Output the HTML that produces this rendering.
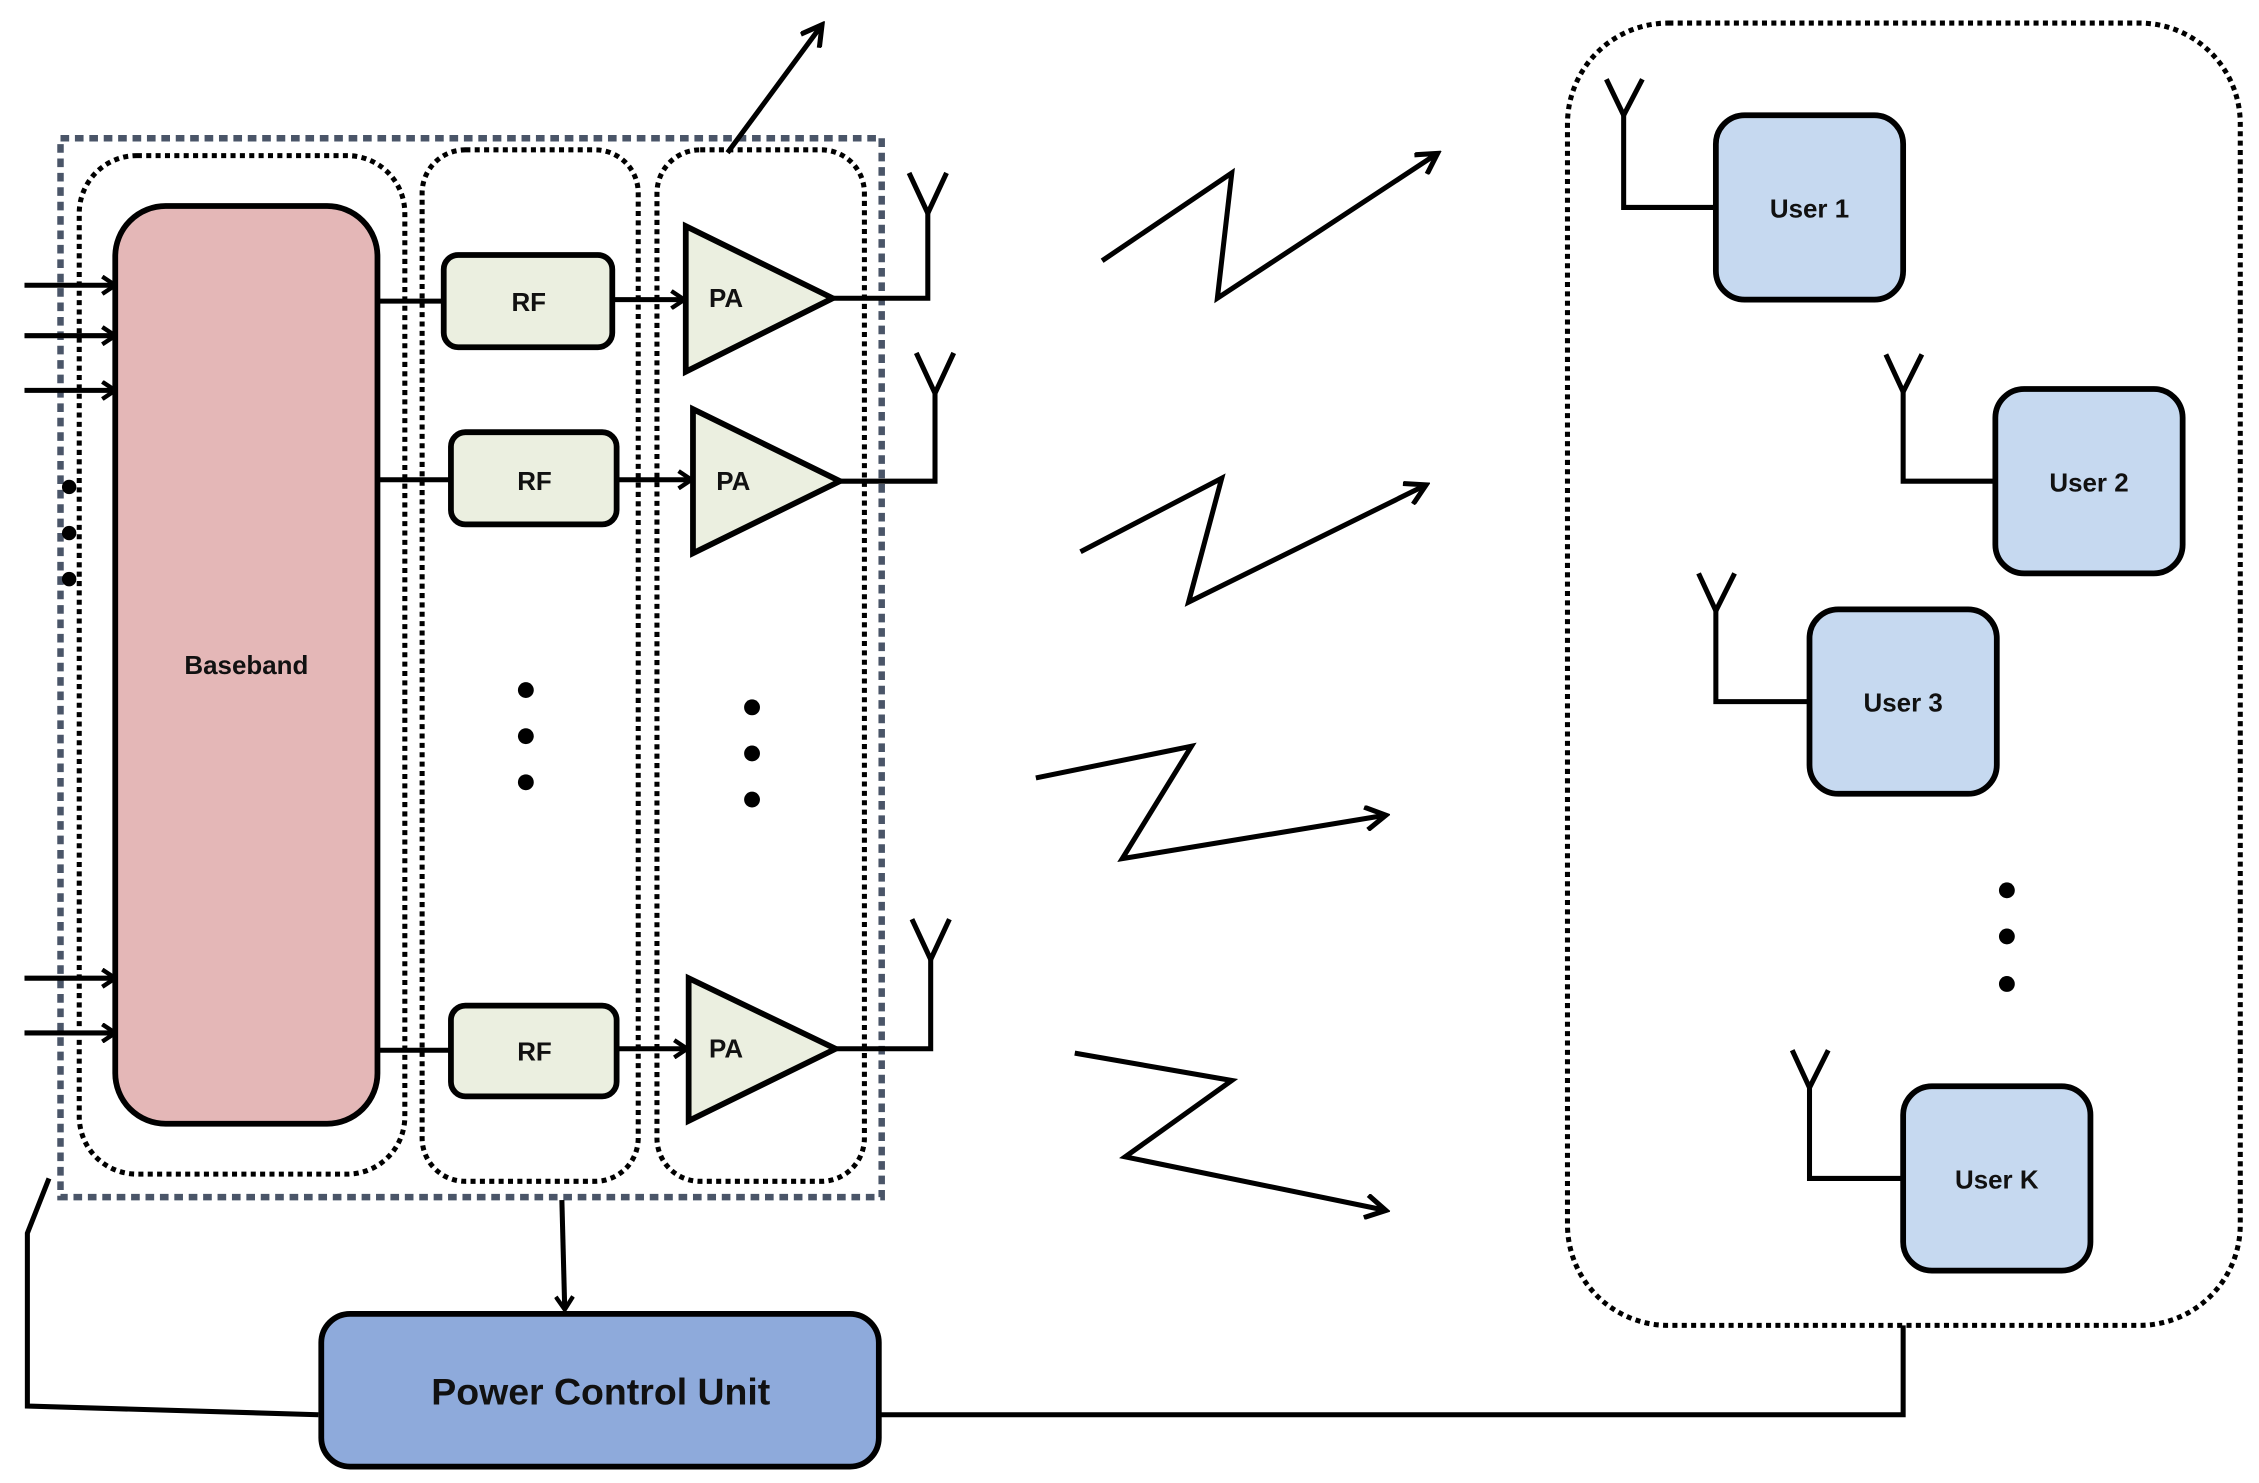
<!DOCTYPE html>
<html><head><meta charset="utf-8"><style>
html,body{margin:0;padding:0;background:#fff;}
svg{display:block;}
text{font-family:"Liberation Sans","Noto Sans CJK KR",sans-serif;font-weight:bold;fill:#111;}
</style></head><body>
<svg width="2259" height="1483" viewBox="0 0 1568 1029.4" preserveAspectRatio="none" xmlns="http://www.w3.org/2000/svg">
<defs>
<marker id="ah" markerWidth="12" markerHeight="14" refX="10" refY="7" orient="auto" markerUnits="userSpaceOnUse">
<path d="M1,1 L10,7 L1,13" fill="none" stroke="#000" stroke-width="3"/>
</marker>
<marker id="ab" markerWidth="18" markerHeight="18" refX="14" refY="9" orient="auto" markerUnits="userSpaceOnUse">
<path d="M1,1 L15,9 L1,17" fill="none" stroke="#000" stroke-width="3.5"/>
</marker>
</defs>
<g fill="none" stroke="#000" stroke-width="3.5">
<rect x="42" y="96" width="570" height="735" stroke="#4a5568" stroke-width="4.5" stroke-dasharray="6,4"/>
<rect x="55" y="108" width="226" height="707" rx="40" stroke-dasharray="3.5,3"/>
<rect x="293" y="104" width="150" height="716" rx="30" stroke-dasharray="3.5,3"/>
<rect x="456" y="104" width="144" height="716" rx="30" stroke-dasharray="3.5,3"/>
<rect x="1088" y="16" width="467" height="904" rx="70" stroke-dasharray="3.5,3"/>
<rect x="80" y="143" width="182" height="637" rx="35" fill="#e4b7b7" stroke-width="4"/>
<line x1="17" y1="198" x2="80" y2="198" marker-end="url(#ah)"/>
<line x1="17" y1="233" x2="80" y2="233" marker-end="url(#ah)"/>
<line x1="17" y1="271" x2="80" y2="271" marker-end="url(#ah)"/>
<line x1="17" y1="679" x2="80" y2="679" marker-end="url(#ah)"/>
<line x1="17" y1="717" x2="80" y2="717" marker-end="url(#ah)"/>
<line x1="262" y1="209" x2="308" y2="209"/>
<line x1="262" y1="333" x2="313" y2="333"/>
<line x1="262" y1="729" x2="313" y2="729"/>
<rect x="308" y="177" width="117" height="64" rx="10" fill="#ebefe0" stroke-width="4"/>
<rect x="313" y="300" width="115" height="64" rx="10" fill="#ebefe0" stroke-width="4"/>
<rect x="313" y="698" width="115" height="63" rx="10" fill="#ebefe0" stroke-width="4"/>
<line x1="425" y1="208" x2="475" y2="208" marker-end="url(#ah)"/>
<line x1="428" y1="333" x2="480" y2="333" marker-end="url(#ah)"/>
<line x1="428" y1="728" x2="477" y2="728" marker-end="url(#ah)"/>
<polygon points="476,157 476,258 578,207" fill="#ebefe0" stroke-width="4"/>
<polygon points="481,284 481,384 583,334" fill="#ebefe0" stroke-width="4"/>
<polygon points="478,679 478,778 580,728" fill="#ebefe0" stroke-width="4"/>
<polyline points="578,207 644,207 644,148"/><polyline points="631,120 644,148 657,120"/>
<polyline points="583,334 649,334 649,273"/><polyline points="636,245 649,273 662,245"/>
<polyline points="580,728 646,728 646,666"/><polyline points="633,638 646,666 659,638"/>
<line x1="505" y1="106" x2="570" y2="18" marker-end="url(#ab)"/>
<polyline points="765,181 855,120 845,207 997,107" marker-end="url(#ab)"/>
<polyline points="750,383 848,332 825,418 989,337" marker-end="url(#ab)"/>
<polyline points="719,540 827,518 779,596 961,566" marker-end="url(#ab)"/>
<polyline points="746,731 855,750 781,803 961,840" marker-end="url(#ab)"/>
<rect x="1191" y="80" width="130" height="128" rx="20" fill="#c6d9f0" stroke-width="4"/>
<rect x="1385" y="270" width="130" height="128" rx="20" fill="#c6d9f0" stroke-width="4"/>
<rect x="1256" y="423" width="130" height="128" rx="20" fill="#c6d9f0" stroke-width="4"/>
<rect x="1321" y="754" width="130" height="128" rx="20" fill="#c6d9f0" stroke-width="4"/>
<polyline points="1191,144 1127,144 1127,80"/><polyline points="1115,55 1127,80 1140,55"/>
<polyline points="1385,334 1321,334 1321,272"/><polyline points="1309,246 1321,272 1334,246"/>
<polyline points="1256,487 1191,487 1191,424"/><polyline points="1179,398 1191,424 1204,398"/>
<polyline points="1321,818 1256,818 1256,755"/><polyline points="1244,729 1256,755 1269,729"/>
<rect x="223" y="912" width="387" height="106" rx="20" fill="#8eaadb" stroke-width="4"/>
<line x1="390" y1="833" x2="392" y2="909" marker-end="url(#ah)"/>
<polyline points="221,982 19,976 19,856 34,818"/>
<polyline points="610,982 1321,982 1321,920"/>
</g>
<g fill="#000">
<circle cx="48" cy="338" r="5"/><circle cx="48" cy="370" r="5"/><circle cx="48" cy="402" r="5"/>
<circle cx="365" cy="479" r="5.5"/><circle cx="365" cy="511" r="5.5"/><circle cx="365" cy="543" r="5.5"/>
<circle cx="522" cy="491" r="5.5"/><circle cx="522" cy="523" r="5.5"/><circle cx="522" cy="555" r="5.5"/>
<circle cx="1393" cy="618" r="5.5"/><circle cx="1393" cy="650" r="5.5"/><circle cx="1393" cy="683" r="5.5"/>
</g>
<g font-size="18" text-anchor="middle">
<text x="171" y="468">Baseband</text>
<text x="367" y="216">RF</text>
<text x="371" y="340">RF</text>
<text x="371" y="736">RF</text>
<text x="504" y="213">PA</text>
<text x="509" y="340">PA</text>
<text x="504" y="734">PA</text>
<text x="1256" y="151">User 1</text>
<text x="1450" y="341">User 2</text>
<text x="1321" y="494">User 3</text>
<text x="1386" y="825">User K</text>
<text x="417" y="975" font-size="26">Power Control Unit</text>
</g>
</svg>
</body></html>
